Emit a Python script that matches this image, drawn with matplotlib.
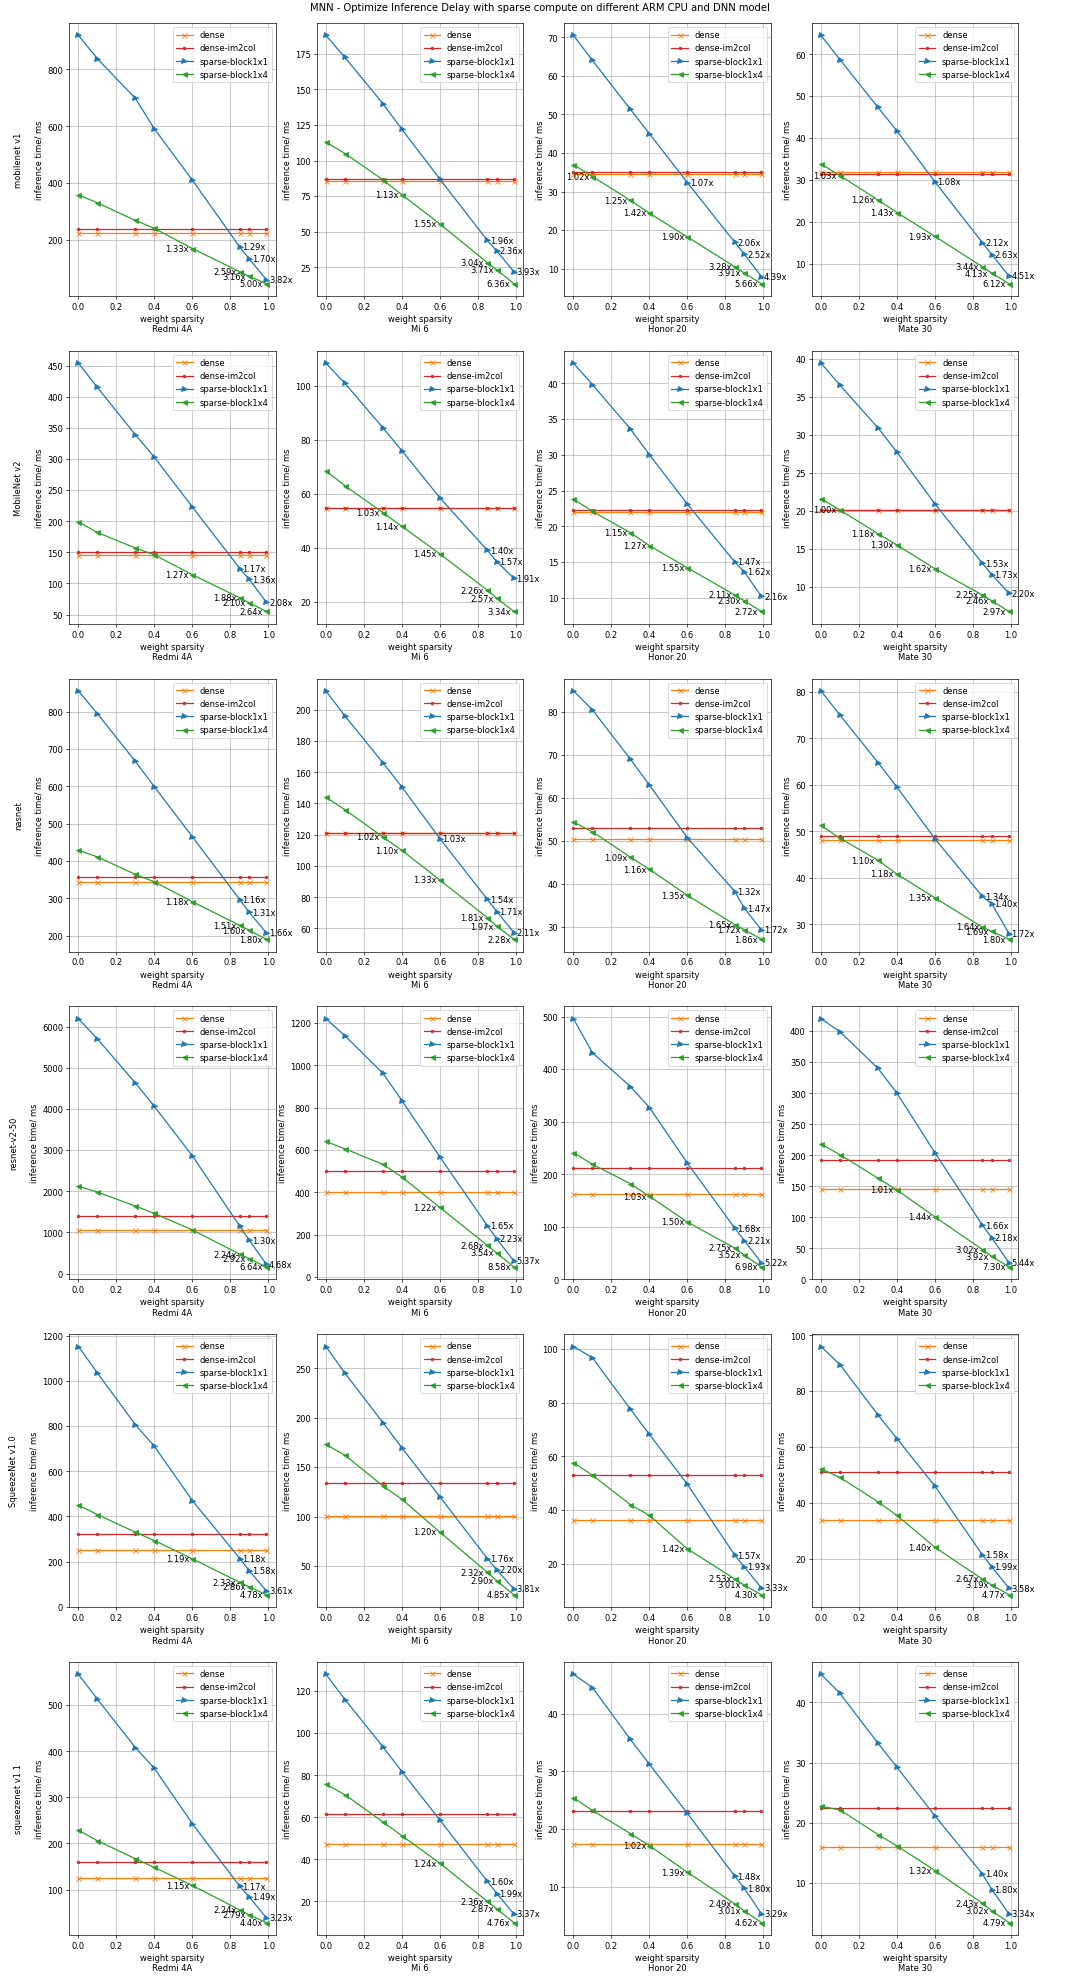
import matplotlib
matplotlib.use("Agg")
import matplotlib.pyplot as plt

N = None

# -------------------------------- data --------------------------------
sparsity = [0.0, 0.1, 0.3, 0.4, 0.6, 0.85, 0.9, 0.99]
devices = ["Redmi 4A", "Mi 6", "Honor 20", "Mate 30"]
models = ["mobilenet v1", "MobileNet v2", "nasnet", "resnet-v2-50",
          "SqueezeNet v1.0", "squeezenet v1.1"]

# constant lines, rows = models, cols = devices
dense_ms = [
    [225, 86, 34.6, 31.8],
    [145, 54.6, 22.0, 20.1],
    [343, 121, 50.4, 48.2],
    [1050, 400, 163, 145],
    [252, 101, 36.2, 33.8],
    [125, 47.2, 17.4, 15.9],
]
im2col_ms = [
    [237, 87, 35.0, 31.4],
    [150, 54.6, 22.3, 20.1],
    [356, 121, 53.1, 49.0],
    [1400, 500, 212, 193],
    [322, 134, 53.1, 51.0],
    [159, 61.4, 23.1, 22.4],
]

# mobilenet v1
b1_mobilenet_v1 = [
    [920, 838, 698, 591, 410, 174, 132, 59],
    [188, 172.5, 140, 122, 87, 43.9, 36.4, 21.9],
    [70.5, 64, 51.3, 45, 32.3, 16.8, 13.7, 7.9],
    [64.5, 58.7, 47.3, 41.7, 29.5, 15.0, 12.1, 7.05],
]
up1_mobilenet_v1 = [
    [N, N, N, N, N, 1.29, 1.70, 3.82],
    [N, N, N, N, N, 1.96, 2.36, 3.93],
    [N, N, N, N, 1.07, 2.06, 2.52, 4.39],
    [N, N, N, N, 1.08, 2.12, 2.63, 4.51],
]
b4_mobilenet_v1 = [
    [358, 330, 268, 240, 169, 87, 71, 45],
    [113, 105, 86.5, 76, 55.5, 28.3, 23.2, 13.5],
    [37, 33.9, 27.7, 24.4, 18.2, 10.5, 8.85, 6.1],
    [33.8, 31.0, 25.2, 22.2, 16.5, 9.25, 7.7, 5.2],
]
up4_mobilenet_v1 = [
    [N, N, N, N, 1.33, 2.59, 3.16, 5.00],
    [N, N, N, 1.13, 1.55, 3.04, 3.71, 6.36],
    [N, 1.02, 1.25, 1.42, 1.90, 3.28, 3.91, 5.66],
    [N, 1.03, 1.26, 1.43, 1.93, 3.44, 4.13, 6.12],
]

# MobileNet v2
b1_mobilenet_v2 = [
    [454, 415, 339, 303, 223, 124, 106.6, 69.7],
    [108.5, 101, 84.5, 76, 58.5, 39, 34.8, 28.6],
    [42.8, 39.8, 33.6, 30, 23.1, 15.0, 13.6, 10.2],
    [39.4, 36.5, 30.9, 27.7, 20.9, 13.1, 11.6, 9.14],
]
up1_mobilenet_v2 = [
    [N, N, N, N, N, 1.17, 1.36, 2.08],
    [N, N, N, N, N, 1.40, 1.57, 1.91],
    [N, N, N, N, N, 1.47, 1.62, 2.16],
    [N, N, N, N, N, 1.53, 1.73, 2.20],
]
b4_mobilenet_v2 = [
    [199, 182, 157, 146, 114, 77, 69, 55],
    [68.5, 63, 53, 47.9, 37.7, 24.2, 21.2, 16.3],
    [23.8, 22.1, 19.1, 17.3, 14.2, 10.4, 9.6, 8.1],
    [21.6, 20.1, 17.0, 15.5, 12.4, 8.93, 8.17, 6.77],
]
up4_mobilenet_v2 = [
    [N, N, N, N, 1.27, 1.88, 2.10, 2.64],
    [N, N, 1.03, 1.14, 1.45, 2.26, 2.57, 3.34],
    [N, N, 1.15, 1.27, 1.55, 2.11, 2.30, 2.72],
    [N, 1.00, 1.18, 1.30, 1.62, 2.25, 2.46, 2.97],
]

# nasnet
b1_nasnet = [
    [856, 795, 667, 599, 465, 296, 262, 207],
    [212, 196, 166, 150.5, 117.5, 78.6, 70.8, 57.3],
    [84.9, 80.5, 69, 63, 50.7, 38.2, 34.3, 29.3],
    [80.2, 75, 64.8, 59.5, 48.4, 36, 34.4, 28],
]
up1_nasnet = [
    [N, N, N, N, N, 1.16, 1.31, 1.66],
    [N, N, N, N, 1.03, 1.54, 1.71, 2.11],
    [N, N, N, N, N, 1.32, 1.47, 1.72],
    [N, N, N, N, N, 1.34, 1.40, 1.72],
]
b4_nasnet = [
    [429, 411, 364, 344, 291, 227, 214, 190],
    [144, 136, 118.6, 110, 91, 66.9, 61.4, 53.1],
    [54.4, 52.1, 46.2, 43.4, 37.3, 30.5, 29.3, 27.1],
    [51.3, 48.5, 43.8, 40.8, 35.7, 29.4, 28.5, 26.8],
]
up4_nasnet = [
    [N, N, N, N, 1.18, 1.51, 1.60, 1.80],
    [N, N, 1.02, 1.10, 1.33, 1.81, 1.97, 2.28],
    [N, N, 1.09, 1.16, 1.35, 1.65, 1.72, 1.86],
    [N, N, 1.10, 1.18, 1.35, 1.64, 1.69, 1.80],
]

# resnet-v2-50
b1_resnet = [
    [6190, 5700, 4630, 4060, 2860, 1150, 808, 224],
    [1220, 1140, 962, 833, 567, 242, 179, 74.5],
    [496, 431, 367, 327, 221, 97, 73.8, 31.2],
    [420, 399, 340, 300, 204, 87.3, 66.5, 26.7],
]
up1_resnet = [
    [N, N, N, N, N, N, 1.30, 4.68],
    [N, N, N, N, N, 1.65, 2.23, 5.37],
    [N, N, N, N, N, 1.68, 2.21, 5.22],
    [N, N, N, N, N, 1.66, 2.18, 5.44],
]
b4_resnet = [
    [2120, 1980, 1640, 1460, 1060, 469, 360, 158],
    [640, 605, 532, 472, 328, 149, 113, 46.6],
    [241, 219, 182, 158, 109, 59.3, 46.3, 23.4],
    [218, 201, 163, 144, 100.7, 48, 37, 19.9],
]
up4_resnet = [
    [N, N, N, N, N, 2.24, 2.92, 6.64],
    [N, N, N, N, 1.22, 2.68, 3.54, 8.58],
    [N, N, N, 1.03, 1.50, 2.75, 3.52, 6.98],
    [N, N, N, 1.01, 1.44, 3.02, 3.92, 7.30],
]

# SqueezeNet v1.0
b1_squeeze10 = [
    [1152, 1035, 806, 710, 470, 213.5, 159.5, 69.8],
    [272, 245, 195, 169.5, 120, 57.4, 45.9, 26.5],
    [101, 96.8, 77.6, 68.2, 49.6, 23.1, 18.8, 10.9],
    [96, 89.5, 71.5, 63, 46, 21.4, 17, 9.44],
]
up1_squeeze10 = [
    [N, N, N, N, N, 1.18, 1.58, 3.61],
    [N, N, N, N, N, 1.76, 2.20, 3.81],
    [N, N, N, N, N, 1.57, 1.93, 3.33],
    [N, N, N, N, N, 1.58, 1.99, 3.58],
]
b4_squeeze10 = [
    [450, 408, 330, 293, 212, 108, 88, 52.7],
    [173, 162, 131, 117.5, 84.2, 43.5, 34.8, 20.8],
    [57.7, 53, 42, 38, 25.5, 14.3, 12, 8.4],
    [52.2, 49.1, 40.4, 35.5, 24.1, 12.7, 10.6, 7.09],
]
up4_squeeze10 = [
    [N, N, N, N, 1.19, 2.33, 2.86, 4.78],
    [N, N, N, N, 1.20, 2.32, 2.90, 4.85],
    [N, N, N, N, 1.42, 2.53, 3.01, 4.30],
    [N, N, N, N, 1.40, 2.67, 3.19, 4.77],
]

# squeezenet v1.1
b1_squeeze11 = [
    [567, 513, 408, 363, 243, 107, 84, 38.7],
    [128, 116, 93.5, 81.7, 58.7, 29.5, 23.7, 14.0],
    [46.8, 44.5, 35.5, 31.2, 22.7, 11.8, 9.7, 5.3],
    [44.7, 41.5, 33.2, 29.2, 21.1, 11.4, 8.83, 4.76],
]
up1_squeeze11 = [
    [N, N, N, N, N, 1.17, 1.49, 3.23],
    [N, N, N, N, N, 1.60, 1.99, 3.37],
    [N, N, N, N, N, 1.48, 1.80, 3.29],
    [N, N, N, N, N, 1.40, 1.80, 3.34],
]
b4_squeeze11 = [
    [229, 206, 167, 148, 109, 55.8, 44.8, 28.4],
    [75.7, 70.7, 57.8, 51.2, 38.1, 20, 16.4, 9.9],
    [25.4, 23.2, 19.2, 17.1, 12.5, 7.0, 5.8, 3.77],
    [22.7, 22.1, 18, 16.1, 12.0, 6.54, 5.26, 3.32],
]
up4_squeeze11 = [
    [N, N, N, N, 1.15, 2.24, 2.79, 4.40],
    [N, N, N, N, 1.24, 2.36, 2.87, 4.76],
    [N, N, N, 1.02, 1.39, 2.49, 3.01, 4.62],
    [N, N, N, N, 1.32, 2.43, 3.02, 4.79],
]

block1x1_ms = [b1_mobilenet_v1, b1_mobilenet_v2, b1_nasnet, b1_resnet, b1_squeeze10, b1_squeeze11]
block1x4_ms = [b4_mobilenet_v1, b4_mobilenet_v2, b4_nasnet, b4_resnet, b4_squeeze10, b4_squeeze11]
speedup1x1 = [up1_mobilenet_v1, up1_mobilenet_v2, up1_nasnet, up1_resnet, up1_squeeze10, up1_squeeze11]
speedup1x4 = [up4_mobilenet_v1, up4_mobilenet_v2, up4_nasnet, up4_resnet, up4_squeeze10, up4_squeeze11]

# -------------------------------- plot --------------------------------
fig, axes = plt.subplots(len(models), len(devices), figsize=(18, 33.03), dpi=60)
fig.subplots_adjust(left=0.0639, right=0.943, top=0.988, bottom=0.0232,
                    wspace=0.197, hspace=0.2)

for i, model in enumerate(models):
    for j, dev in enumerate(devices):
        ax = axes[i][j]
        n = len(sparsity)
        ax.plot(sparsity, [dense_ms[i][j]] * n, color="C1", marker="x", label="dense")
        ax.plot(sparsity, [im2col_ms[i][j]] * n, color="C3", marker=".", label="dense-im2col")
        ax.plot(sparsity, block1x1_ms[i][j], color="C0", marker=">", label="sparse-block1x1")
        ax.plot(sparsity, block1x4_ms[i][j], color="C2", marker="<", label="sparse-block1x4")

        for x, y, s in zip(sparsity, block1x1_ms[i][j], speedup1x1[i][j]):
            if s is not None:
                ax.annotate("%.2fx" % s, (x, y), xytext=(3, 0), textcoords="offset points",
                            ha="left", va="center")
        for x, y, s in zip(sparsity, block1x4_ms[i][j], speedup1x4[i][j]):
            if s is not None:
                ax.annotate("%.2fx" % s, (x, y), xytext=(-4, 0), textcoords="offset points",
                            ha="right", va="center")

        ax.grid(True)
        ax.legend(loc="upper right")
        ax.set_xlabel("weight sparsity\n" + dev)
        if j == 0:
            ax.set_ylabel(model + "\n\ninference time/ ms")
        else:
            ax.set_ylabel("inference time/ ms")

fig.suptitle("MNN - Optimize Inference Delay with sparse compute on different ARM CPU and DNN model",
             y=0.9985, va="top")
fig.savefig("out.png", dpi=60)
